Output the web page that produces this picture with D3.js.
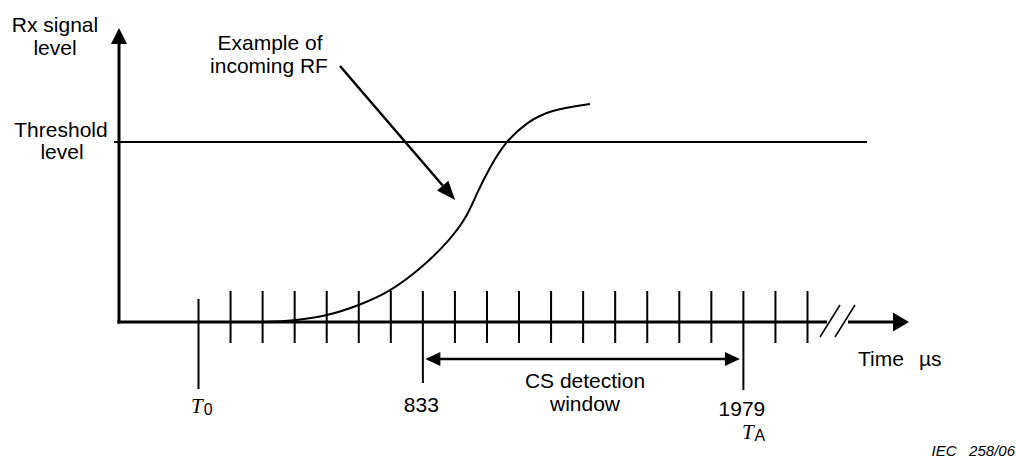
<!DOCTYPE html>
<html>
<head>
<meta charset="utf-8">
<script src="https://cdn.jsdelivr.net/npm/d3@7"></script>
<style>
  body { margin: 0; background: #fff; }
  text { font-family: Arial, "Liberation Sans", sans-serif; fill: #000; }
</style>
</head>
<body>
<svg width="1016" height="460"></svg>
<script>
// slot index of every time tick on the axis
const tickSlots = [0, 1, 2, 3, 4, 5, 6, 7, 8, 9, 10, 11, 12, 13, 14, 15, 16, 17, 18, 19]
const tickLabels = [
    { slot: 7, label: "833" },
    { slot: 17, label: "1979" }
]
// tick extents (above / below the baseline), px
const longTicks = { 0: [-23, 67], 7: [-31, 61], 17: [-31, 68] }

// incoming RF curve: slot vs signal level (threshold = 1)
const rfSlot  = [2.0, 2.96, 4.02, 5.05, 5.99, 7.02, 7.86, 8.39, 8.70, 9.11, 9.58, 10.27, 10.98, 12.23]
const rfLevel = [0, 0.006, 0.033, 0.094, 0.167, 0.306, 0.456, 0.583, 0.717, 0.861, 1.0, 1.111, 1.178, 1.211]

const thresholdLevel = 1
const windowStart = 7, windowEnd = 17

document.addEventListener('DOMContentLoaded', () => {
    drawDiagram()
})

function drawDiagram() {
    const svg = d3.select("svg")

    const x = d3.scaleLinear().domain([0, 19]).range([198, 807])
    const y = d3.scaleLinear().domain([0, 1]).range([322, 142])
    const x0 = 119, base = y(0)

    // threshold line
    svg.append("line")
        .attr("x1", 114).attr("x2", 867)
        .attr("y1", y(thresholdLevel)).attr("y2", y(thresholdLevel))
        .attr("stroke", "#000").attr("stroke-width", 2)

    // y axis with arrow
    svg.append("line")
        .attr("x1", x0).attr("x2", x0).attr("y1", base + 1.5).attr("y2", 42)
        .attr("stroke", "#000").attr("stroke-width", 3)
    svg.append("path")
        .attr("d", `M${x0 - 8},44 L${x0 + 8},44 L${x0},28 Z`)
        .attr("fill", "#000")

    // x axis baseline with break
    svg.append("line")
        .attr("x1", x0 - 1.5).attr("x2", 827).attr("y1", base).attr("y2", base)
        .attr("stroke", "#000").attr("stroke-width", 3)
    svg.append("line")
        .attr("x1", 848).attr("x2", 895).attr("y1", base).attr("y2", base)
        .attr("stroke", "#000").attr("stroke-width", 3)
    svg.append("path")
        .attr("d", `M893,${base - 9.5} L909,${base} L893,${base + 9.5} Z`)
        .attr("fill", "#000")
    svg.selectAll(".brk")
        .data([0, 15])
        .enter()
        .append("line")
        .attr("x1", d => 820 + d).attr("y1", 337)
        .attr("x2", d => 840 + d).attr("y2", 305)
        .attr("stroke", "#000").attr("stroke-width", 1.5)

    // ticks through the axis generator
    const axis = d3.axisBottom(x).tickValues(tickSlots).tickSize(0).tickFormat("")
    const g = svg.append("g").attr("transform", `translate(0,${base})`).call(axis)
    g.select(".domain").remove()
    g.selectAll(".tick line")
        .attr("y1", d => (longTicks[d] || [-31, 21])[0])
        .attr("y2", d => (longTicks[d] || [-31, 21])[1])
        .attr("stroke", "#000").attr("stroke-width", 2)

    // RF curve
    const pts = rfSlot.map((s, i) => [s, rfLevel[i]])
    svg.append("path")
        .datum(pts)
        .attr("d", d3.line().x(d => x(d[0])).y(d => y(d[1])).curve(d3.curveBasis))
        .attr("fill", "none").attr("stroke", "#000").attr("stroke-width", 2)

    // pointer arrow to the curve
    const p0 = [x(4.43), y(1.422)], p1 = [x(8.02), y(0.678)]
    const ang = Math.atan2(p1[1] - p0[1], p1[0] - p0[0])
    const hl = 19, hw = 7.5
    const hb = [p1[0] - hl * Math.cos(ang), p1[1] - hl * Math.sin(ang)]
    svg.append("line")
        .attr("x1", p0[0]).attr("y1", p0[1]).attr("x2", hb[0]).attr("y2", hb[1])
        .attr("stroke", "#000").attr("stroke-width", 2.5)
    svg.append("path")
        .attr("d", `M${p1[0]},${p1[1]} L${hb[0] - hw * Math.sin(ang)},${hb[1] + hw * Math.cos(ang)} L${hb[0] + hw * Math.sin(ang)},${hb[1] - hw * Math.cos(ang)} Z`)
        .attr("fill", "#000")

    // CS detection window double arrow
    const wy = 359, xa = x(windowStart) + 3, xb = x(windowEnd) - 3
    svg.append("line")
        .attr("x1", xa + 12).attr("x2", xb - 12).attr("y1", wy).attr("y2", wy)
        .attr("stroke", "#000").attr("stroke-width", 2.5)
    svg.append("path")
        .attr("d", `M${xa},${wy} L${xa + 15},${wy - 7} L${xa + 15},${wy + 7} Z M${xb},${wy} L${xb - 15},${wy - 7} L${xb - 15},${wy + 7} Z`)
        .attr("fill", "#000")

    // texts
    const fs = "21px"
    function label(tx, ty, str, anchor) {
        return svg.append("text")
            .attr("x", tx).attr("y", ty)
            .attr("text-anchor", anchor || "middle")
            .style("font-size", fs)
            .text(str)
    }
    label(55, 32, "Rx signal")
    label(55, 55, "level")
    label(61, 137, "Threshold")
    label(62, 159, "level")
    label(270, 50, "Example of")
    label(269, 73, "incoming RF")
    label(585, 388, "CS detection")
    label(585, 411, "window")
    label(858, 366, "Time", "start")
    label(919, 366, "\u00b5s", "start")

    svg.selectAll(".tlab")
        .data(tickLabels)
        .enter()
        .append("text")
        .attr("x", d => x(d.slot) - 1)
        .attr("y", d => d.slot === 17 ? 416 : 412)
        .attr("text-anchor", "middle")
        .style("font-size", fs)
        .text(d => d.label)

    // T0 and TA
    function tSym(tx, ty, sub) {
        const t = svg.append("text").attr("x", tx).attr("y", ty)
        t.append("tspan")
            .style("font-family", "'Liberation Serif', 'Times New Roman', serif")
            .style("font-style", "italic").style("font-size", "21px")
            .text("T")
        t.append("tspan")
            .attr("dx", 1).attr("dy", 2)
            .style("font-size", "16px")
            .text(sub)
    }
    tSym(x(0) - 7, 413, "0")
    tSym(x(17) - 1, 439, "A")

    svg.append("text")
        .attr("x", 1015).attr("y", 456)
        .attr("text-anchor", "end")
        .attr("xml:space", "preserve")
        .style("font-size", "15px").style("font-style", "italic")
        .text("IEC   258/06")
}
</script>
</body>
</html>
